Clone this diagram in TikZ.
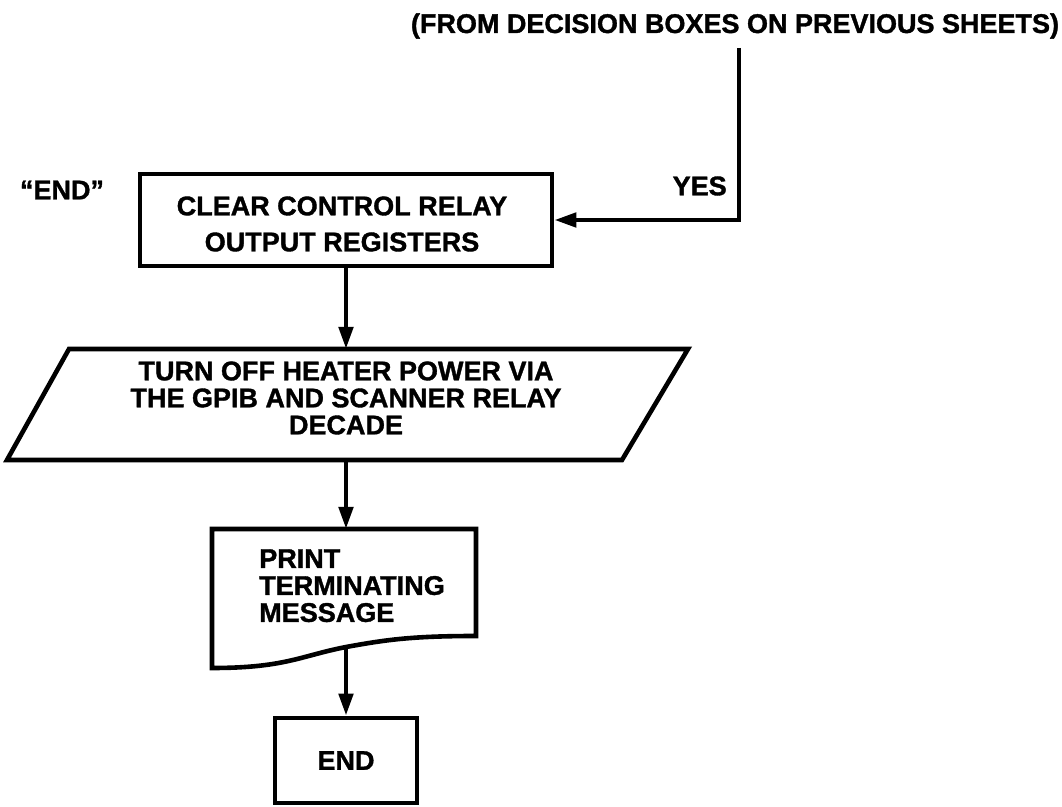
\documentclass[tikz,border=0pt]{standalone}
\usepackage{fontspec}
\setmainfont{Liberation Sans}[BoldFeatures={FakeBold=1.3}]
\usetikzlibrary{arrows.meta}
\begin{document}
\begin{tikzpicture}[x=0.5pt,y=-0.5pt,
  line width=2.3pt,
  txt/.style={font=\fontsize{13.5}{13.5}\selectfont\bfseries, inner sep=0pt, align=center},
  procbox/.style={draw, inner sep=0pt, font=\fontsize{13.5}{18}\selectfont\bfseries, align=center},
  flow/.style={-{Triangle[length=11pt,width=7pt]}},
]
\useasboundingbox (0,0) rectangle (1062,807);

% incoming line from earlier sheets
\node[txt] (from) at (735,26) {(FROM DECISION BOXES ON PREVIOUS SHEETS)};
\coordinate (src) at (739,48);
\node[txt, anchor=east] (yes) at (729,186) {YES};

% entry label
\node[txt] (endlbl) at (62,190) {“END”};

% clear relay registers
\node[procbox, minimum width=206pt, minimum height=46pt] (clear) at (346,220) {};
\node[procbox, draw=none] (cleartxt) at (342,224)
  {CLEAR CONTROL RELAY\\OUTPUT REGISTERS};

% heater power off (input/output parallelogram)
\coordinate (io-top) at (346,349);
\coordinate (io-bot) at (346,460);
\draw (69,349) -- (688,349) -- (622,460) -- (7,460) -- cycle;
\node[txt] (io) at (346,398)
  {TURN OFF HEATER POWER VIA\\THE GPIB AND SCANNER RELAY\\DECADE};

% terminating message (document symbol)
\coordinate (doc-top) at (346,529);
\coordinate (doc-bot) at (346,647);
\draw (212,668) -- (212,529) -- (476,529) -- (476,636)
  .. controls (410,636) and (385,640) .. (doc-bot)
  .. controls (300,656) and (285,668) .. cycle;
\node[txt, align=left, anchor=north west] (doc) at (257,547)
  {PRINT\\TERMINATING\\MESSAGE};

% end box
\node[procbox, minimum width=71pt, minimum height=42.5pt] (endbox) at (346,760.5) {END};

% connectors
\draw[flow] (src) |- (clear.east);
\draw[flow] (clear.south) -- (io-top);
\draw[flow] (io-bot) -- (doc-top);
\draw[flow] (doc-bot) -- (endbox.north);
\end{tikzpicture}
\end{document}
